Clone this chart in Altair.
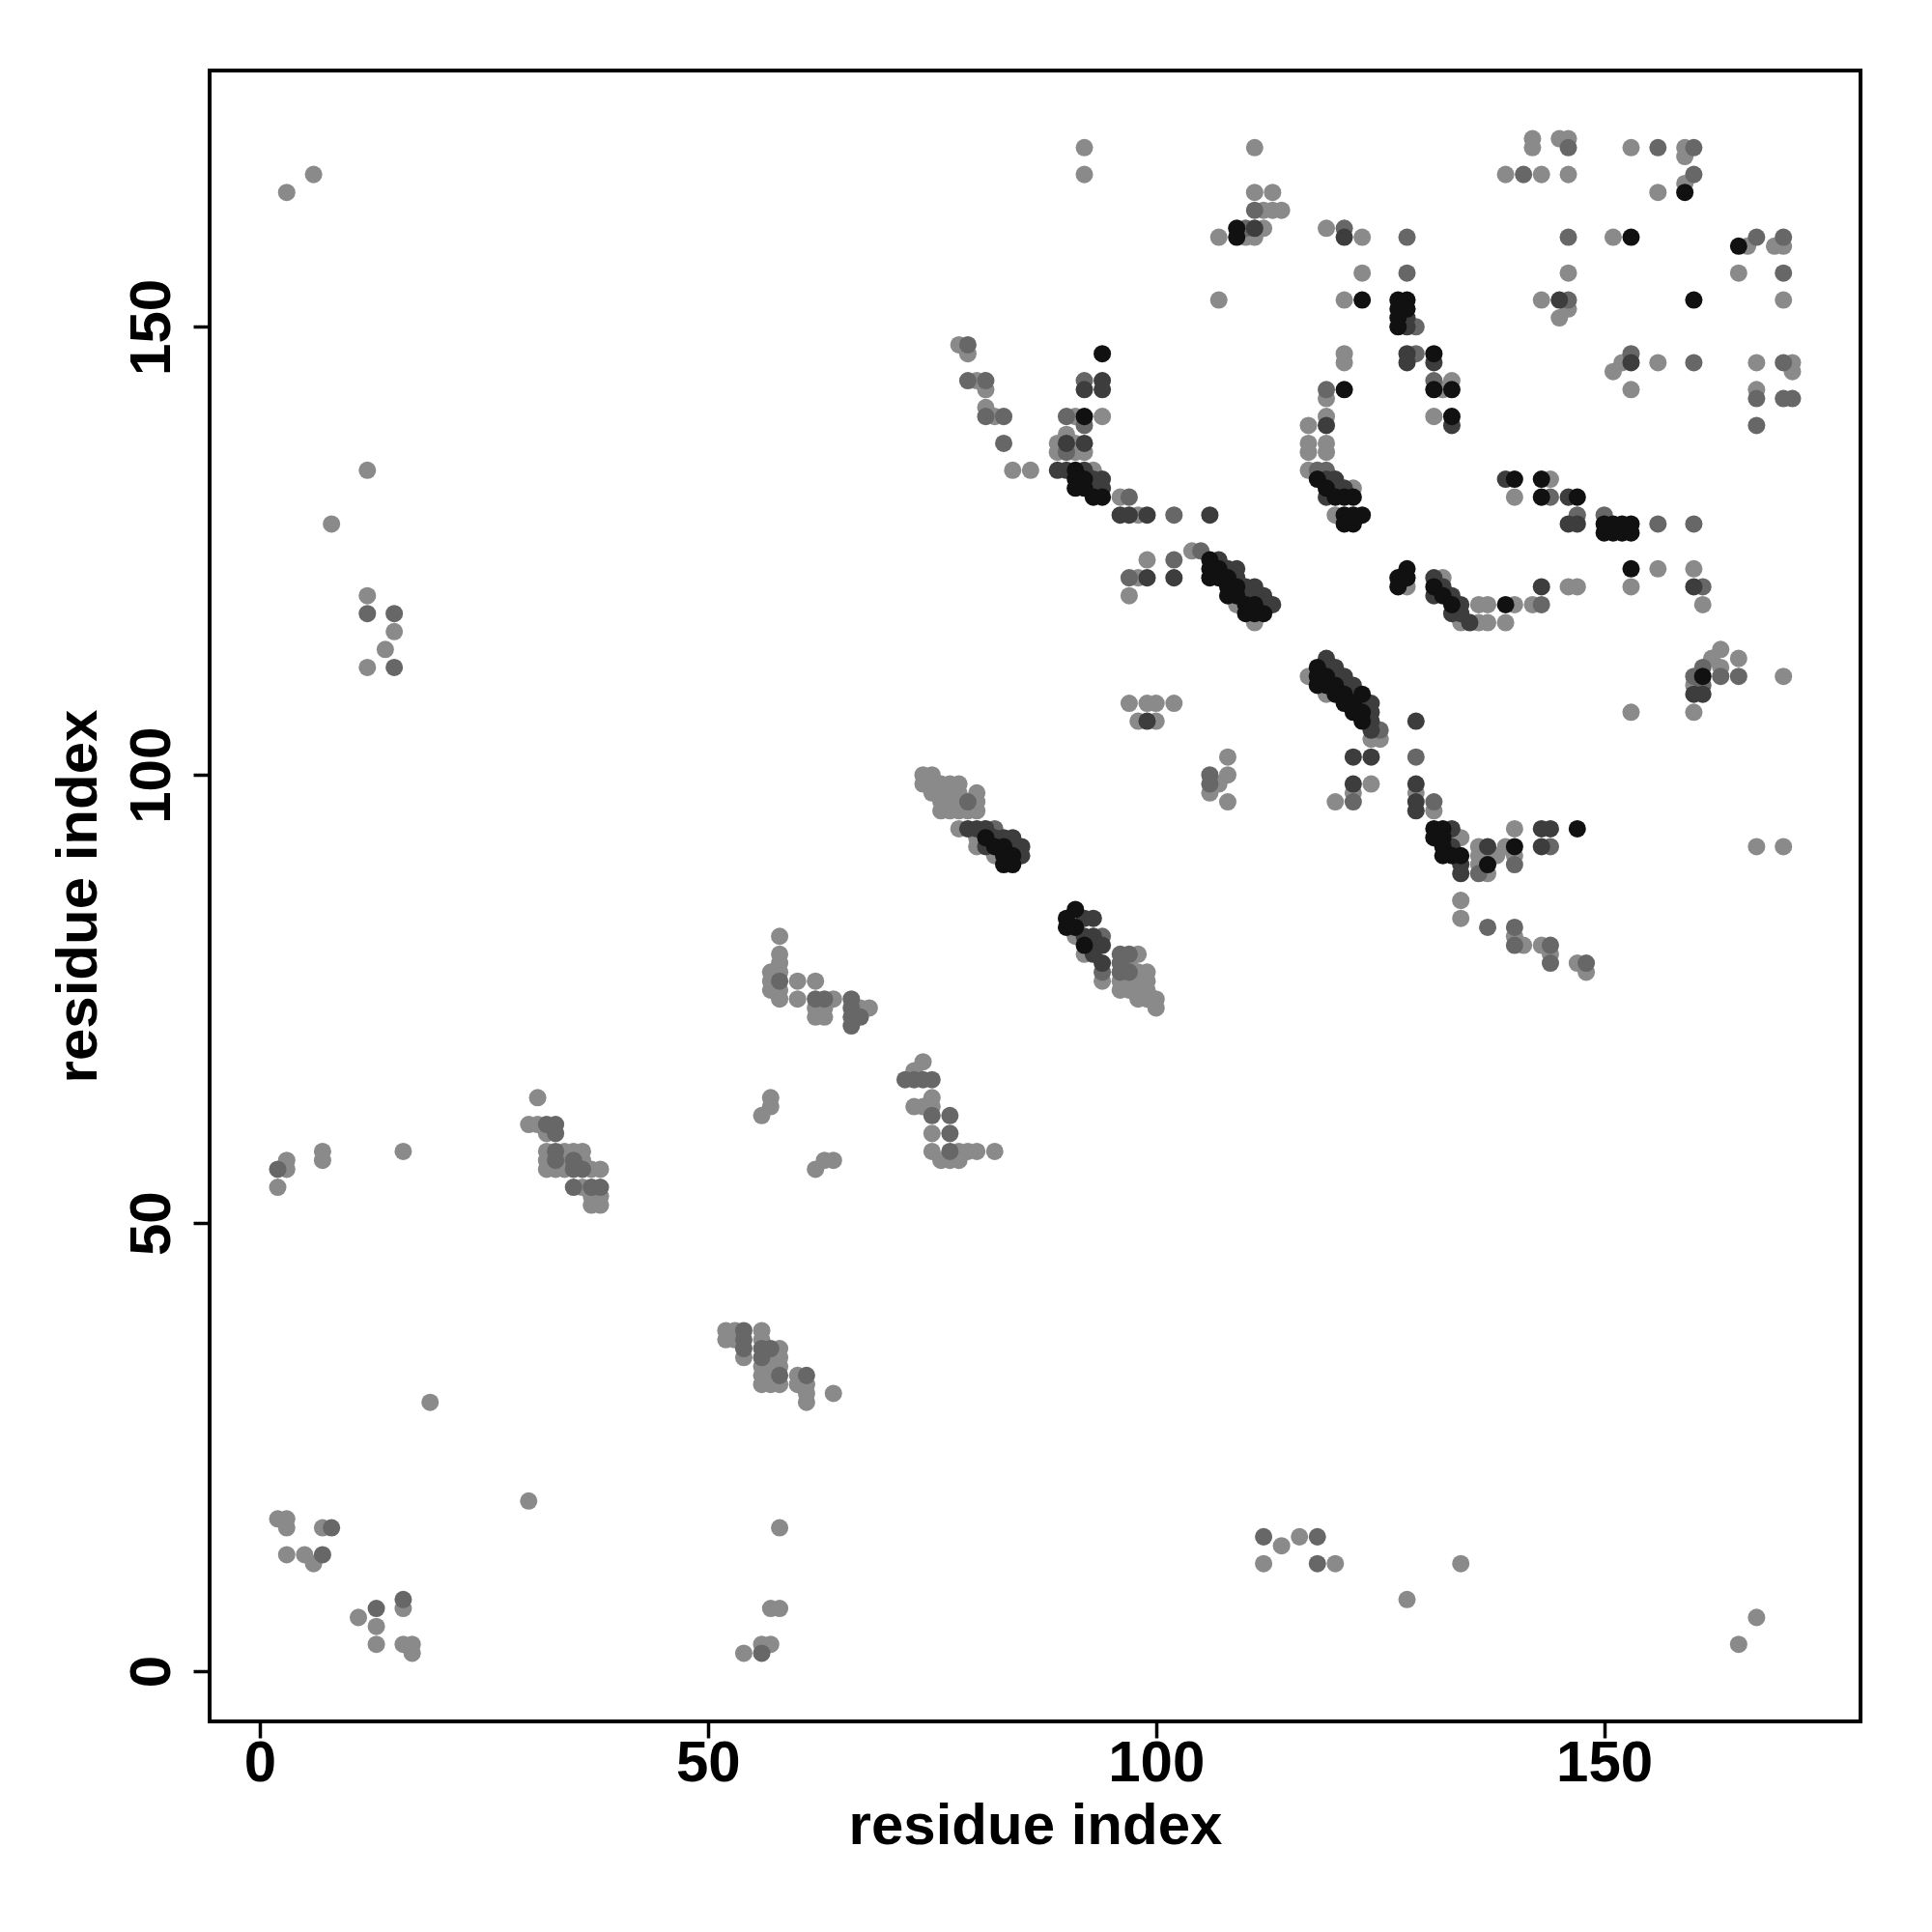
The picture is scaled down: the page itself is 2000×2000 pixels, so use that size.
import altair as alt
import pandas as pd

# residue contact pairs: x index, y index, shade level (1 light grey .. 4 black)
pts = [
    # top-left
    (3,165,1),(6,167,1),(12,134,1),(8,128,1),(12,120,1),(12,118,2),(15,118,2),(15,116,1),(14,114,1),(12,112,1),(15,112,2),
    # bottom-left
    (31,64,1),(30,61,1),(31,61,1),(32,61,2),(33,61,2),(32,60,1),(33,60,2),
    (32,58,1),(33,58,2),(34,58,1),(35,58,1),(36,58,1),
    (32,57,1),(33,57,2),(34,57,1),(35,57,2),(36,57,1),
    (32,56,1),(33,56,1),(34,56,1),(35,56,2),(36,56,2),(37,56,1),(38,56,1),
    (35,54,2),(36,54,1),(37,54,2),(38,54,2),(37,53,1),(38,53,1),(37,52,1),(38,52,1),
    (3,57,1),(2,56,2),(3,56,1),(2,54,1),(7,58,1),(7,57,1),(16,58,1),(19,30,1),(30,19,1),
    (2,17,1),(3,17,1),(3,16,1),(7,16,1),(8,16,2),(3,13,1),(5,13,1),(6,12,1),(7,13,2),
    (13,7,2),(11,6,1),(13,5,1),(13,3,1),(16,8,2),(16,7,1),(16,3,1),(17,3,1),(17,2,1),
    # middle-bottom
    (58,82,1),(58,80,1),(58,79,1),(58,78,1),(58,77,2),(58,76,1),(58,75,1),(57,78,1),(57,77,1),(57,76,1),
    (60,77,1),(60,75,1),(62,77,1),(62,75,2),(62,74,1),(62,73,1),(63,75,2),(63,74,1),(63,73,1),(64,75,1),
    (66,75,2),(66,74,2),(66,73,2),(66,72,2),(67,74,1),(67,73,2),(68,74,1),
    (57,64,1),(57,63,1),(56,62,1),(62,56,1),(63,57,1),(64,57,1),
    (74,68,1),(73,67,1),(72,66,2),(73,66,2),(74,66,2),(75,66,2),
    (73,63,1),(74,63,1),(75,64,1),(75,63,1),(75,62,2),(77,62,2),(75,60,1),(77,60,2),
    (75,58,1),(77,58,2),(78,58,1),(79,58,1),(80,58,1),(82,58,1),(76,57,1),(77,57,1),(78,57,1),
    (52,38,1),(53,38,1),(54,38,2),(56,38,1),(52,37,1),(53,37,1),(54,37,2),(56,37,1),
    (54,36,2),(56,36,2),(57,36,2),(58,36,1),(54,35,1),(56,35,2),(57,35,1),(58,35,1),
    (56,34,1),(57,34,1),(58,34,1),(56,33,1),(57,33,1),(58,33,2),(60,33,1),(61,33,2),
    (56,32,1),(57,32,1),(58,32,1),(60,32,1),(61,32,1),(61,31,1),(64,31,1),(61,30,1),
    (58,16,1),(57,7,1),(58,7,1),(56,3,1),(57,3,1),(54,2,1),(56,2,2),
    # upper middle
    (107,153,1),(78,148,1),(79,148,2),(79,147,1),(94,147,4),
    (79,144,2),(80,144,1),(81,144,2),(81,143,1),(92,144,2),(92,143,3),(94,144,3),(94,143,3),
    (81,141,1),(81,140,2),(82,140,1),(83,140,2),(90,140,2),(91,140,1),(92,140,4),(94,140,1),(92,139,2),
    (83,137,2),(84,134,1),(86,134,1),
    (89,137,1),(90,138,1),(90,137,3),(91,137,1),(92,137,3),(89,136,1),(90,136,2),(91,136,1),(92,136,1),
    (89,134,3),(90,134,3),(91,134,4),(92,134,3),(93,134,1),
    (91,133,4),(92,133,4),(93,133,3),(94,133,3),(91,132,4),(92,132,4),(93,132,3),(94,132,3),
    (93,131,4),(94,131,4),(96,131,1),(97,131,2),
    (96,129,3),(97,129,3),(98,129,1),(99,129,3),(102,129,2),(106,129,3),
    (99,124,1),(102,124,2),(104,125,1),(105,125,2),(97,122,2),(98,122,1),(99,122,3),(102,122,3),(97,120,1),
    # middle diagonals
    (97,108,1),(99,108,1),(100,108,1),(102,108,1),(98,106,1),(99,106,3),(100,106,1),
    (108,102,1),(106,100,2),(108,100,1),(106,99,2),(107,99,1),(106,98,1),(108,97,1),
    (74,100,1),(75,100,1),(74,99,1),(75,99,1),(76,99,1),(77,99,1),(78,99,1),
    (75,98,1),(76,98,1),(77,98,1),(78,98,1),(80,98,1),
    (76,97,1),(77,97,1),(78,97,1),(79,97,2),(80,97,1),(76,96,1),(77,96,1),(78,96,1),(79,96,1),(80,96,1),
    (78,94,1),(79,94,3),(80,94,3),(81,94,3),(82,94,2),
    (80,93,1),(81,93,4),(82,93,3),(83,93,3),(84,93,3),
    (80,92,1),(81,92,3),(82,92,4),(83,92,4),(84,92,3),(85,92,3),
    (82,91,1),(83,91,4),(84,91,4),(85,91,3),(83,90,4),(84,90,4),
    (91,85,4),(90,84,4),(92,84,3),(93,84,3),(90,83,4),(91,83,4),(91,82,1),(92,82,3),(93,82,3),(94,82,2),
    (92,81,4),(93,81,3),(94,81,3),(92,80,1),(93,80,3),(94,79,3),(94,78,2),(94,77,1),
    (96,80,2),(97,80,2),(98,80,1),(96,79,2),(96,78,2),(96,77,1),(96,76,1),
    (97,79,1),(97,78,2),(97,77,1),(97,76,1),(98,78,1),(98,77,1),(98,76,1),(98,75,1),
    (99,78,1),(99,77,1),(99,76,1),(99,75,1),(100,75,1),(100,74,1),
    # upper right-middle
    (92,170,1),(92,167,1),(111,170,1),(111,165,1),(113,165,1),(111,163,2),(112,163,1),(113,163,1),(114,163,1),
    (109,161,4),(110,161,2),(111,161,3),(112,161,1),(107,160,1),(109,160,4),(110,160,1),(111,160,1),
    (119,161,1),(121,161,2),(121,160,3),(121,153,1),(121,147,1),(121,146,1),
    (119,143,2),(121,143,4),(119,142,1),(119,140,1),(119,139,3),(117,139,1),
    (117,137,1),(119,137,1),(117,136,1),(119,136,1),
    (117,134,1),(118,134,2),(119,134,2),(118,133,4),(119,133,3),(120,133,3),
    (119,132,4),(120,132,3),(121,132,3),(122,132,1),(119,131,3),(120,131,4),(121,131,4),(122,131,4),
    (120,129,1),(121,129,4),(122,129,4),(123,129,4),(121,128,4),(122,128,4),
    (142,171,1),(142,170,1),(139,167,1),(141,167,2),(143,167,1),
    (123,160,1),(128,160,2),(123,156,1),(128,156,2),(123,153,4),
    (127,153,4),(128,153,4),(127,152,4),(128,152,4),(127,151,4),(128,151,3),(127,150,4),(128,150,3),(129,150,2),
    (143,153,1),(128,147,3),(128,146,3),(129,147,2),(131,147,4),(131,146,3),
    (131,144,2),(131,143,4),(132,143,1),(133,144,1),(133,143,4),(131,140,1),(133,140,4),(133,139,3),
    (139,133,3),(140,133,4),(140,131,1),(143,133,4),(143,131,4),
    # diagonal 106-113
    (106,124,4),(107,124,3),(106,123,4),(107,123,4),(108,123,3),(109,123,3),
    (106,122,4),(107,122,4),(108,122,4),(109,122,3),(108,121,4),(109,121,4),(110,121,3),(111,121,3),
    (108,120,4),(109,120,4),(110,120,3),(111,120,3),(112,120,3),
    (109,119,1),(110,119,4),(111,119,4),(112,119,3),(113,119,3),(110,118,4),(111,118,4),(112,118,4),(111,117,1),
    # diagonal 117-125
    (119,113,3),(118,112,4),(119,112,3),(120,112,3),(117,111,1),(118,111,4),(119,111,4),(120,111,3),(121,111,3),
    (118,110,4),(119,110,4),(120,110,4),(121,110,3),(122,110,3),
    (119,109,1),(120,109,4),(121,109,4),(122,109,3),(123,109,4),
    (121,108,4),(122,108,4),(123,108,3),(124,108,3),(122,107,4),(123,107,4),(124,107,3),
    (123,106,4),(124,106,3),(124,105,3),(125,105,2),(124,104,1),(125,104,1),
    (122,102,3),(124,102,3),(122,99,3),(124,99,1),(122,98,1),(120,97,1),(122,97,2),
    # right-middle
    (128,123,4),(127,122,4),(128,122,4),(127,121,4),(128,121,1),
    (131,122,3),(132,122,1),(131,121,4),(132,121,3),(131,120,3),(132,120,4),(133,120,3),
    (133,119,4),(134,119,3),(133,118,3),(134,118,3),(134,117,1),(135,117,3),
    (136,119,1),(137,119,1),(139,119,4),(140,119,1),(142,119,1),(143,119,2),
    (143,121,3),(146,121,1),(147,121,1),(136,117,1),(137,117,1),(139,117,1),
    (129,106,3),(129,102,2),(129,99,3),(129,98,1),(129,97,3),(129,96,3),(131,97,2),(131,96,1),
    (131,94,4),(132,94,4),(133,94,3),(131,93,4),(132,93,4),(134,93,1),(132,92,4),(133,92,3),
    (132,91,4),(133,91,4),(134,91,4),(134,90,3),(134,89,3),
    (136,92,1),(137,92,3),(136,91,1),(137,90,4),(138,91,1),(136,90,1),(137,89,1),(136,89,2),
    (139,92,1),(140,92,4),(140,91,1),(140,90,2),(140,94,1),
    (143,94,3),(144,94,3),(147,94,4),(143,92,3),(144,92,2),
    (134,86,1),(134,84,1),(137,83,2),(140,83,2),(140,82,1),(141,81,1),(140,81,2),
    (143,81,1),(144,81,2),(144,80,1),(144,79,2),(147,79,1),(148,79,2),(148,78,1),
    # top right
    (145,171,1),(146,171,1),(146,170,2),(146,167,1),
    (153,170,1),(156,170,2),(159,170,1),(160,170,2),(159,169,1),
    (160,167,2),(159,166,1),(159,165,4),(156,165,1),
    (146,160,2),(151,160,1),(153,160,4),
    (165,159,4),(166,159,1),(167,160,2),(169,159,1),(170,160,2),(170,159,1),
    (165,156,1),(170,156,2),(146,156,1),
    (145,153,3),(146,153,2),(160,153,4),(170,153,1),(145,151,1),(146,152,1),
    (153,147,2),(153,146,3),(152,146,1),(151,145,1),(156,146,1),(160,146,2),(153,143,1),
    (167,146,1),(170,146,2),(171,146,1),(171,145,1),
    (167,143,1),(167,142,2),(170,142,2),(171,142,2),(167,139,2),
    (144,133,1),(144,131,2),(146,131,3),(147,131,4),
    (146,128,3),(147,129,2),(147,128,3),(150,129,2),(150,128,4),(151,128,4),(152,128,4),(153,128,4),
    (156,128,2),(160,128,2),(150,127,4),(151,127,4),(152,127,4),(153,127,4),
    (153,123,4),(156,123,1),(160,123,1),(153,121,1),(160,121,3),(161,121,2),(161,119,1),
    (163,114,1),(165,113,1),(162,113,1),(161,112,2),(163,112,1),(163,111,2),(165,111,2),
    (160,111,2),(161,111,4),(160,110,1),(161,110,2),(160,109,3),(161,109,3),(170,111,1),
    (153,107,1),(160,107,1),(167,92,1),(170,92,1),
    # bottom right
    (112,15,2),(114,14,1),(116,15,1),(118,15,2),(112,12,1),(118,12,2),(120,12,1),(134,12,1),
    (128,8,1),(167,6,1),(165,3,1),
]

res_i = [p[0] for p in pts]
res_j = [p[1] for p in pts]
level = [p[2] for p in pts]
tick_values = [0, 50, 100, 150]
level_colors = ["#8a8a8a", "#676767", "#3d3d3d", "#111111"]

df = pd.DataFrame({"i": res_i, "j": res_j, "level": level})

FONT = "Liberation Sans"
dom = [-5.6, 178.6]
W = 1709

chart = alt.Chart(df).mark_circle(size=325, opacity=1).encode(
    x=alt.X("i:Q", scale=alt.Scale(domain=dom, nice=False, zero=False),
            axis=alt.Axis(values=tick_values, title="residue index", grid=False, domain=False,
                          tickSize=17, tickWidth=3.5, tickColor="black",
                          labelFont=FONT, labelFontSize=60, labelFontWeight="bold", labelColor="black",
                          labelBaseline="alphabetic", labelPadding=44, labelFlush=False,
                          titleFont=FONT, titleFontSize=60, titleFontWeight="bold", titleColor="black",
                          titleX=W / 2, titleY=108, titleBaseline="middle", titleAlign="center")),
    y=alt.Y("j:Q", scale=alt.Scale(domain=dom, nice=False, zero=False),
            axis=alt.Axis(values=tick_values, title="residue index", grid=False, domain=False,
                          tickSize=17, tickWidth=3.5, tickColor="black",
                          labelFont=FONT, labelFontSize=60, labelFontWeight="bold", labelColor="black",
                          labelAngle=270, labelAlign="center", labelBaseline="alphabetic",
                          labelPadding=25, labelFlush=False,
                          titleFont=FONT, titleFontSize=60, titleFontWeight="bold", titleColor="black",
                          titleAngle=270, titleX=-136, titleY=W / 2, titleBaseline="middle",
                          titleAlign="center")),
    color=alt.Color("level:O", scale=alt.Scale(domain=[1, 2, 3, 4], range=level_colors), legend=None),
    order=alt.Order("level:Q"),
).properties(
    width=W, height=W,
    autosize=alt.AutoSizeParams(type="none"),
    padding={"left": 209, "top": 65, "right": 66, "bottom": 210},
    background="white",
).configure_view(stroke="black", strokeWidth=4)

chart.save("out.html", embed_options={"renderer": "svg", "actions": False})
